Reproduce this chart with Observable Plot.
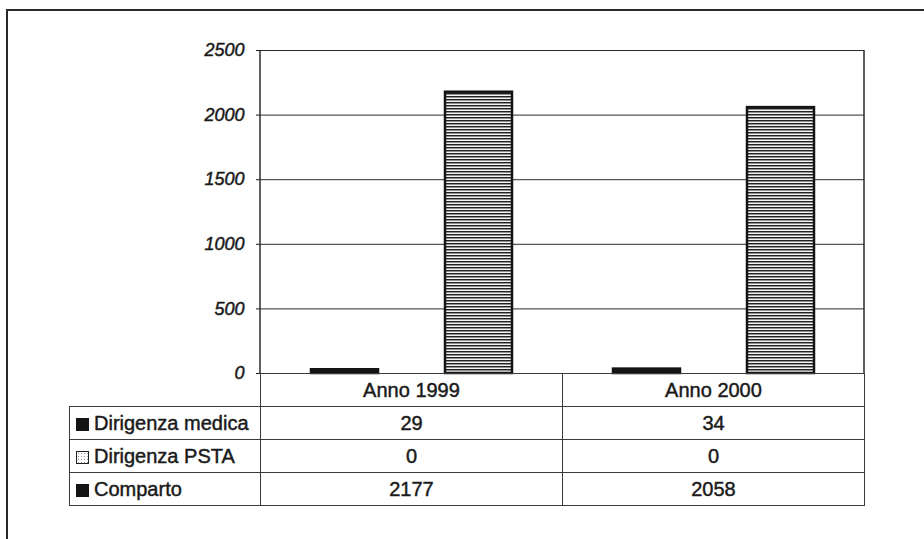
<!DOCTYPE html>
<html>
<head>
<meta charset="utf-8">
<script src="https://cdn.jsdelivr.net/npm/d3@7"></script>
<script src="https://cdn.jsdelivr.net/npm/@observablehq/plot@0.6"></script>
<style>
  html, body { margin: 0; padding: 0; background: #fff; }
  #page { position: relative; width: 924px; height: 539px; overflow: hidden; background: #fff;
          font-family: "Liberation Sans", Arial, sans-serif; color: #1a1a1a; }
  #frame { position: absolute; left: 6px; top: 9px; width: 960px; height: 600px;
           border-left: 2px solid #2a2a2a; border-top: 2px solid #2a2a2a; }
  #chart { position: absolute; left: 0; top: 0; }
  #chart text { stroke: #1a1a1a; stroke-width: 0.45px; }
  #datatable { position: absolute; border-collapse: collapse; table-layout: fixed;
               font-size: 20px; -webkit-text-stroke: 0.45px #1a1a1a; }
  #datatable td { border: 1px solid #3a3a3a; padding: 0; height: 32px; text-align: center;
                  white-space: nowrap; }
  #datatable td.blank { border: none; }
  #datatable td.name { text-align: left; padding-left: 6px; }
  .key { display: inline-block; width: 13px; height: 13px; margin-right: 5px;
         vertical-align: -1px; box-sizing: border-box; -webkit-text-stroke: 0; }
</style>
</head>
<body>
<div id="page">
  <div id="frame"></div>
</div>
<script>
// Staff counts by category and year
const years = ["Anno 1999", "Anno 2000"];
const series = ["Dirigenza medica", "Dirigenza PSTA", "Comparto"];
const dirigenzaMedica = [29, 34];
const dirigenzaPSTA = [0, 0];
const comparto = [2177, 2058];
const yTicks = [0, 500, 1000, 1500, 2000, 2500];

const seriesValues = [dirigenzaMedica, dirigenzaPSTA, comparto];
const seriesFill = ["#141414", "#ffffff", "url(#hatch)"];
const keyStyle = [
  "background:#141414;border:1px solid #141414;",
  "background:#fff radial-gradient(#999 0.6px, transparent 0.8px) 0 0/3px 3px;border:1.5px solid #222;",
  "background:#141414;border:1px solid #141414;"
];

const rows = years.flatMap((year, i) =>
  series.map((s, j) => ({year, series: s, value: seriesValues[j][i]})));

const chart = Plot.plot({
  width: 924,
  height: 395,
  marginLeft: 260,
  marginRight: 60,
  marginTop: 50,
  marginBottom: 22,
  style: {
    fontFamily: "'Liberation Sans', Arial, sans-serif",
    fontSize: "18px",
    fontStyle: "italic",
    color: "#1a1a1a",
    background: "transparent",
    overflow: "visible"
  },
  fx: {domain: years, padding: 0, axis: null},
  x: {domain: series, paddingInner: 0, paddingOuter: 0.737, axis: null},
  y: {domain: [0, 2500], ticks: yTicks, tickFormat: "d", tickSize: 4, tickPadding: 12, label: null},
  color: {type: "ordinal", domain: series, range: seriesFill},
  marks: [
    Plot.ruleY(yTicks, {stroke: "#2a2a2a", strokeWidth: 1}),
    Plot.barY(rows, {fx: "year", x: "series", y: "value", fill: "series", stroke: "#141414", strokeWidth: 2.5})
  ]
});
chart.id = "chart";
document.getElementById("page").appendChild(chart);

// Horizontal hatching used by the Comparto bars
const svg = d3.select(chart);
const pat = svg.insert("defs", ":first-child")
  .append("pattern").attr("id", "hatch").attr("patternUnits", "userSpaceOnUse")
  .attr("width", 8).attr("height", 3);
pat.append("rect").attr("width", 8).attr("height", 3).attr("fill", "#f4f4f4");
pat.append("rect").attr("width", 8).attr("height", 1).attr("fill", "#222");
pat.append("rect").attr("y", 1).attr("width", 8).attr("height", 1).attr("fill", "#909090");

// Plot-area side borders, from the facet and y scales
const fxScale = chart.scale("fx");
const yScale = chart.scale("y");
const plotLeft = fxScale.range[0], plotRight = fxScale.range[1];
const plotTop = Math.min(...yScale.range), plotBottom = Math.max(...yScale.range);
svg.append("g").attr("stroke", "#2a2a2a").attr("stroke-width", 1.5)
  .selectAll("line").data([plotLeft, plotRight]).join("line")
  .attr("x1", d => d).attr("x2", d => d).attr("y1", plotTop).attr("y2", plotBottom);

// Data table under the bars, columns aligned with the facets
const labelWidth = 191;
const colWidth = (plotRight - plotLeft) / years.length;
const table = document.createElement("table");
table.id = "datatable";
table.style.left = (plotLeft - labelWidth) + "px";
table.style.top = plotBottom + "px";
table.style.width = (plotRight - plotLeft + labelWidth) + "px";
const colgroup = document.createElement("colgroup");
[labelWidth, ...years.map(() => colWidth)].forEach(w => {
  const c = document.createElement("col"); c.style.width = w + "px"; colgroup.appendChild(c);
});
table.appendChild(colgroup);
const head = table.insertRow();
const blank = head.insertCell(); blank.className = "blank";
years.forEach(y => { head.insertCell().textContent = y; });
series.forEach((s, j) => {
  const tr = table.insertRow();
  const name = tr.insertCell(); name.className = "name";
  const key = document.createElement("span"); key.className = "key"; key.style.cssText = keyStyle[j];
  name.appendChild(key); name.appendChild(document.createTextNode(s));
  seriesValues[j].forEach(v => { tr.insertCell().textContent = v; });
});
document.getElementById("page").appendChild(table);
</script>
</body>
</html>
